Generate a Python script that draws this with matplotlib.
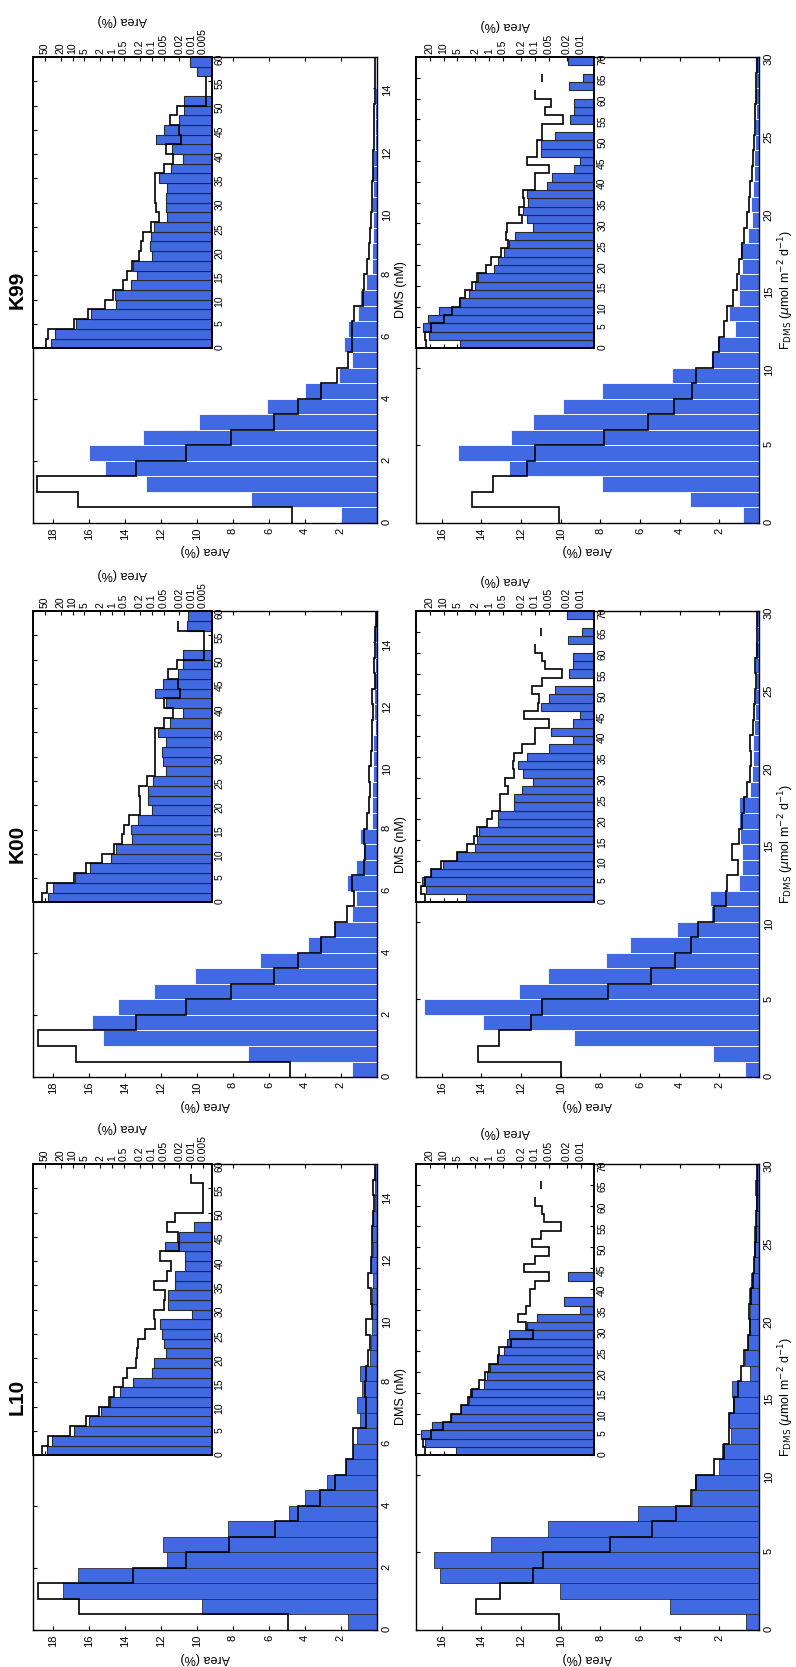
import numpy as np
import matplotlib
matplotlib.use("Agg")
import matplotlib.pyplot as plt
from matplotlib.ticker import NullLocator

plt.rcParams['font.family'] = ['Liberation Sans', 'DejaVu Sans']

BLUE = '#4169e1'

# bin edges: main histograms and the log-scale tail insets
dms_edges = np.arange(0, 15.01, 0.5)
fdms_edges = np.arange(0, 30.01, 1)
dms_tail_edges = np.arange(0, 60.01, 2)
fdms_tail_edges = np.arange(0, 70.01, 2)

# ---- DMS (nM), area %
l10_dms_blue = [1.58, 9.74, 17.45, 16.6, 11.64, 11.9, 8.28, 4.87, 3.99, 2.79, 1.72, 1.35, 1.08, 0.95, 1.08,
                0.82, 0.95, 0.4, 0.34, 0.3, 0.27, 0.27, 0.23, 0.34, 0.19, 0.3, 0.23, 0.08, 0.12, 0.08]
l10_dms_black = [4.95, 16.56, 18.83, 13.54, 10.59, 8.2, 5.65, 4.4, 3.16, 2.33, 1.74, 1.32, 1.32, 0.58, 0.58,
                 0.67, 0.58, 0.49, 0.4, 0.58, 0.3, 0.34, 0.49, 0.34, 0.27, 0.3, 0.19, 0.15, 0.21, 0.08]
k00_dms_blue = [1.4, 7.15, 15.2, 15.8, 14.4, 12.4, 10.1, 6.5, 3.8, 2.4, 1.36, 1.18, 1.67, 1.16, 0.8,
                0.94, 0.3, 0.3, 0.25, 0.22, 0.2, 0.2, 0.12, 0.15, 0.15, 0.15, 0.1, 0.08, 0.15, 0.08]
k00_dms_black = [4.8, 16.7, 18.8, 13.4, 10.6, 8.1, 5.7, 4.4, 3.1, 2.3, 1.67, 1.27, 1.36, 0.72, 0.68,
                 0.72, 0.53, 0.42, 0.39, 0.46, 0.35, 0.3, 0.3, 0.2, 0.25, 0.13, 0.16, 0.13, 0.09, 0.06]
k99_dms_blue = [2.0, 7.0, 12.8, 15.1, 16.0, 13.0, 9.9, 6.1, 4.0, 2.1, 1.4, 1.8, 1.6, 1.06, 0.94,
                0.6, 0.3, 0.25, 0.2, 0.2, 0.25, 0.22, 0.26, 0.2, 0.12, 0.1, 0.1, 0.08, 0.06, 0.05]
k99_dms_black = [4.7, 16.6, 18.9, 13.4, 10.6, 8.1, 5.7, 4.4, 3.1, 2.2, 1.6, 1.4, 1.4, 1.3, 0.8,
                 0.7, 0.55, 0.45, 0.38, 0.32, 0.28, 0.25, 0.24, 0.2, 0.17, 0.15, 0.14, 0.12, 0.1, 0.09]

l10_dms_tail_blue = [45, 32.4, 9.3, 3.95, 1.9, 1.11, 0.64, 0.29, 0.096, 0.088, 0.043, 0.049, 0.054, 0.063, 0.0093,
                     0.039, 0.039, 0.025, 0.026, 0.0141, 0.0141, 0.045, 0.0199, 0.0082, 0, 0, 0, 0, 0, 0]
l10_dms_tail_black = [61, 42.6, 11.3, 4.5, 2.2, 1.23, 0.91, 0.52, 0.41, 0.25, 0.23, 0.22, 0.15, 0.084, 0.085,
                      0.05, 0.045, 0.085, 0.04, 0.033, 0.06, 0.0199, 0.022, 0.04, 0.025, 0.005, 0.005, 0.005, 0.0101, 0]
k00_dms_tail_blue = [41, 30.6, 8.85, 3.7, 1.06, 0.8, 0.31, 0.33, 0.227, 0.1, 0.125, 0.122, 0.093, 0.042, 0.052,
                     0.056, 0.042, 0.068, 0.034, 0.0163, 0.042, 0.084, 0.051, 0.021, 0.0156, 0.016, 0, 0, 0.013, 0.0116]
k00_dms_tail_black = [58, 45, 9.4, 4.5, 1.8, 0.88, 0.56, 0.49, 0.38, 0.2, 0.2, 0.21, 0.13, 0.084, 0.084,
                      0.084, 0.084, 0.084, 0.05, 0.029, 0.05, 0.019, 0.021, 0.038, 0.023, 0.0048, 0.0048, 0.0048, 0.022, 0]
k99_dms_tail_blue = [35.2, 27.8, 8.4, 3.35, 0.79, 0.85, 0.34, 0.23, 0.29, 0.096, 0.11, 0.105, 0.087, 0.04, 0.042,
                     0.044, 0.04, 0.066, 0.032, 0.016, 0.031, 0.078, 0.049, 0.02, 0.015, 0.015, 0, 0, 0.0071, 0.0108]
k99_dms_tail_black = [48, 43, 9.1, 4.1, 1.52, 0.96, 0.54, 0.42, 0.32, 0.21, 0.19, 0.17, 0.105, 0.065, 0.077,
                      0.08, 0.08, 0.08, 0.05, 0.029, 0.044, 0.018, 0.02, 0.035, 0.023, 0.0042, 0.0042, 0.0042, 0, 0]

# ---- F_DMS (umol m-2 d-1), area %
l10_f_blue = [0.66, 4.49, 10.05, 16.08, 16.4, 13.5, 10.66, 6.11, 3.4, 3.24, 2.04, 1.88, 1.41, 1.5, 1.3,
              1.36, 0.45, 0.71, 0.58, 0.5, 0.45, 0.5, 0.41, 0.28, 0.25, 0.28, 0.17, 0.17, 0.22, 0.12]
l10_f_black = [10.08, 14.29, 13.04, 11.38, 10.88, 7.52, 5.4, 4.19, 3.44, 3.16, 2.29, 1.78, 1.54, 1.5, 1.25,
               1.05, 0.91, 0.75, 0.58, 0.45, 0.5, 0.42, 0.3, 0.25, 0.22, 0.15, 0.17, 0.12, 0.12, 0.08]
k00_f_blue = [0.69, 2.34, 9.33, 13.9, 16.9, 12.1, 10.66, 7.7, 6.5, 4.14, 2.4, 2.46, 1.0, 0.86, 0.86,
              0.94, 1.0, 1.03, 0.44, 0.35, 0.3, 0.3, 0.27, 0.22, 0.19, 0.15, 0.19, 0.22, 0.12, 0.15]
k00_f_black = [10.0, 14.15, 13.1, 11.5, 10.93, 7.6, 5.45, 4.22, 3.45, 3.1, 2.29, 1.67, 1.62, 1.06, 1.36,
               1.03, 0.86, 0.77, 0.6, 0.44, 0.39, 0.44, 0.32, 0.27, 0.22, 0.15, 0.19, 0.12, 0.1, 0.08]
k99_f_blue = [0.8, 3.5, 7.9, 12.6, 15.2, 12.5, 11.4, 9.9, 7.9, 4.4, 2.4, 2.1, 1.2, 1.5, 1.0,
              1.0, 0.85, 0.95, 0.55, 0.35, 0.4, 0.3, 0.25, 0.25, 0.2, 0.18, 0.15, 0.2, 0.15, 0.2]
k99_f_black = [10.1, 14.5, 13.4, 11.7, 11.3, 7.8, 5.6, 4.3, 3.4, 3.2, 2.3, 2.0, 1.75, 1.6, 1.3,
               1.1, 1.0, 0.85, 0.77, 0.6, 0.5, 0.45, 0.35, 0.3, 0.27, 0.22, 0.2, 0.17, 0.15, 0.12]

l10_f_tail_blue = [5.4, 25.5, 30.5, 17.8, 6.9, 4.2, 2.8, 2.6, 1.3, 1.12, 0.96, 0.67, 0.47, 0.4, 0.37,
                   0.15, 0.09, 0.01, 0.023, 0, 0, 0.019, 0, 0, 0, 0, 0, 0, 0, 0, 0, 0, 0, 0, 0]
l10_f_tail_black = [25.5, 27.7, 19, 10.1, 6.9, 4.2, 2.9, 2.4, 1.64, 1.25, 1.0, 0.65, 0.6, 0.34, 0.11,
                    0.16, 0.24, 0.154, 0.126, 0.13, 0.1, 0.05, 0.17, 0.1, 0.05, 0.115, 0.073, 0.027, 0.063, 0.07,
                    0.1, 0, 0.073, 0, 0]
k00_f_tail_blue = [3.29, 23.6, 30, 19, 10.3, 5.1, 2.0, 1.84, 1.7, 0.64, 0.64, 0.28, 0.28, 0.19, 0.11,
                   0.18, 0.23, 0.15, 0.049, 0.0147, 0.044, 0.0147, 0.01, 0.075, 0.049, 0.036, 0, 0.018, 0.0147, 0.0147,
                   0, 0.019, 0.0093, 0, 0.02]
k00_f_tail_black = [25, 31, 25, 18.4, 11.2, 5.1, 3.0, 2.2, 1.84, 1.13, 0.88, 0.58, 0.58, 0.38, 0.45,
                    0.28, 0.3, 0.28, 0.19, 0.1, 0.1, 0.05, 0.17, 0.084, 0.08, 0.114, 0.07, 0.026, 0.06, 0.07,
                    0.1, 0, 0.075, 0, 0]
k99_f_tail_blue = [4.3, 20.5, 27.7, 21.3, 12.3, 4.5, 2.7, 2.0, 1.8, 0.8, 0.65, 0.47, 0.36, 0.27, 0.11,
                   0.15, 0.18, 0.14, 0.15, 0.053, 0.042, 0.014, 0.01, 0.075, 0.072, 0.037, 0, 0.017, 0.014, 0.014,
                   0, 0.018, 0.0087, 0, 0.019]
k99_f_tail_black = [24.6, 25.1, 19.1, 9.9, 6.6, 4.3, 3.35, 2.4, 1.85, 1.15, 0.9, 0.55, 0.38, 0.42, 0.4,
                    0.19, 0.22, 0.17, 0.18, 0.1, 0.1, 0.048, 0.15, 0.09, 0.09, 0.07, 0.07, 0.024, 0.06, 0.045,
                    0.1, 0, 0.07, 0, 0]

dms_log_ticks = [50, 20, 10, 5, 2, 1, 0.5, 0.2, 0.1, 0.05, 0.02, 0.01, 0.005]
f_log_ticks = [20, 10, 5, 2, 1, 0.5, 0.2, 0.1, 0.05, 0.02, 0.01]

sites = ['K99', 'K00', 'L10']
row_bottoms = [0.6863, 0.3539, 0.0222]
row_height = 0.2795


def fmt(v):
    return ('%g' % v)


def panel(fig, rect, edges, blue, black, area_max, area_ticks, val_ticks, val_label,
          tail_edges, tail_blue, tail_black, log_lim, log_ticks, tail_ticks, bar_edge, title=None):
    ax = fig.add_axes(rect)
    ax.barh(edges[:-1], blue, height=np.diff(edges), align='edge', color=BLUE,
            edgecolor=bar_edge, linewidth=0.6, zorder=2)
    ax.stairs(black, edges, orientation='horizontal', baseline=None, color='black',
              linewidth=1.2, zorder=3)
    ax.set_xlim(area_max, 0)
    ax.set_ylim(edges[0], edges[-1])
    ax.set_xticks(area_ticks)
    ax.set_yticks(val_ticks)
    ax.tick_params(axis='x', bottom=True, top=True, direction='in', labelrotation=90,
                   labelsize=8, length=3)
    ax.tick_params(axis='y', left=True, right=True, labelleft=False, labelright=True,
                   direction='in', labelrotation=90, labelsize=8, length=3)
    ax.set_xlabel('Area (%)', rotation=180, fontsize=9, labelpad=3)
    ax.yaxis.set_label_position('right')
    ax.set_ylabel(val_label, rotation=90, fontsize=9, labelpad=2)
    for s in ax.spines.values():
        s.set_linewidth(1.0)
    if title:
        ax.text(-0.045, 0.5, title, transform=ax.transAxes, rotation=90, ha='center',
                va='center', fontsize=15, fontweight='bold')

    ins = ax.inset_axes([0, 0.375, 0.52, 0.625])
    tb = np.asarray(tail_blue, float)
    keep = tb > 0
    ins.barh(tail_edges[:-1][keep], tb[keep], height=np.diff(tail_edges)[keep], left=1e-4,
             align='edge', color=BLUE, edgecolor='#2a2a2a', linewidth=0.8, zorder=2)
    tk = np.asarray(tail_black, float)
    tk[tk <= 0] = np.nan
    ins.stairs(tk, tail_edges, orientation='horizontal', baseline=None, color='black',
               linewidth=1.2, zorder=3)
    ins.set_xscale('log')
    ins.set_xlim(log_lim[1], log_lim[0])
    ins.set_ylim(tail_edges[0], tail_edges[-1])
    ins.set_xticks(log_ticks)
    ins.set_xticklabels([fmt(t) for t in log_ticks])
    ins.xaxis.set_minor_locator(NullLocator())
    ins.set_yticks(tail_ticks)
    ins.tick_params(axis='x', top=True, bottom=True, labeltop=True, labelbottom=False,
                    direction='in', labelrotation=90, labelsize=7.5, length=3, pad=2)
    ins.tick_params(axis='y', left=True, right=True, labelleft=False, labelright=True,
                    direction='in', labelrotation=90, labelsize=7.5, length=3, pad=2)
    ins.xaxis.set_label_position('top')
    ins.set_xlabel('Area (%)', rotation=180, fontsize=9, labelpad=4)
    for s in ins.spines.values():
        s.set_linewidth(1.4)
    return ax, ins


fig = plt.figure(figsize=(7.96, 16.67), dpi=100)

dms_sets = {
    'K99': (k99_dms_blue, k99_dms_black, k99_dms_tail_blue, k99_dms_tail_black),
    'K00': (k00_dms_blue, k00_dms_black, k00_dms_tail_blue, k00_dms_tail_black),
    'L10': (l10_dms_blue, l10_dms_black, l10_dms_tail_blue, l10_dms_tail_black),
}
f_sets = {
    'K99': (k99_f_blue, k99_f_black, k99_f_tail_blue, k99_f_tail_black),
    'K00': (k00_f_blue, k00_f_black, k00_f_tail_blue, k00_f_tail_black),
    'L10': (l10_f_blue, l10_f_black, l10_f_tail_blue, l10_f_tail_black),
}

flux_label = r'F$_{\mathrm{DMS}}$ ($\mu$mol m$^{-2}$ d$^{-1}$)'

for site, y0 in zip(sites, row_bottoms):
    edge = '#303030' if site == 'L10' else 'white'
    b, k, tb, tk = dms_sets[site]
    panel(fig, [0.0415, y0, 0.432, row_height], dms_edges, b, k, 19.1,
          np.arange(2, 19, 2), np.arange(0, 15, 2), 'DMS (nM)',
          dms_tail_edges, tb, tk, (0.003, 100), dms_log_ticks, np.arange(0, 61, 5),
          edge, title=site)
    b, k, tb, tk = f_sets[site]
    panel(fig, [0.5226, y0, 0.431, row_height], fdms_edges, b, k, 17.3,
          np.arange(2, 17, 2), np.arange(0, 31, 5), flux_label,
          fdms_tail_edges, tb, tk, (0.005, 40), f_log_ticks, np.arange(0, 71, 5),
          edge)

fig.savefig('out.png', dpi=100)
